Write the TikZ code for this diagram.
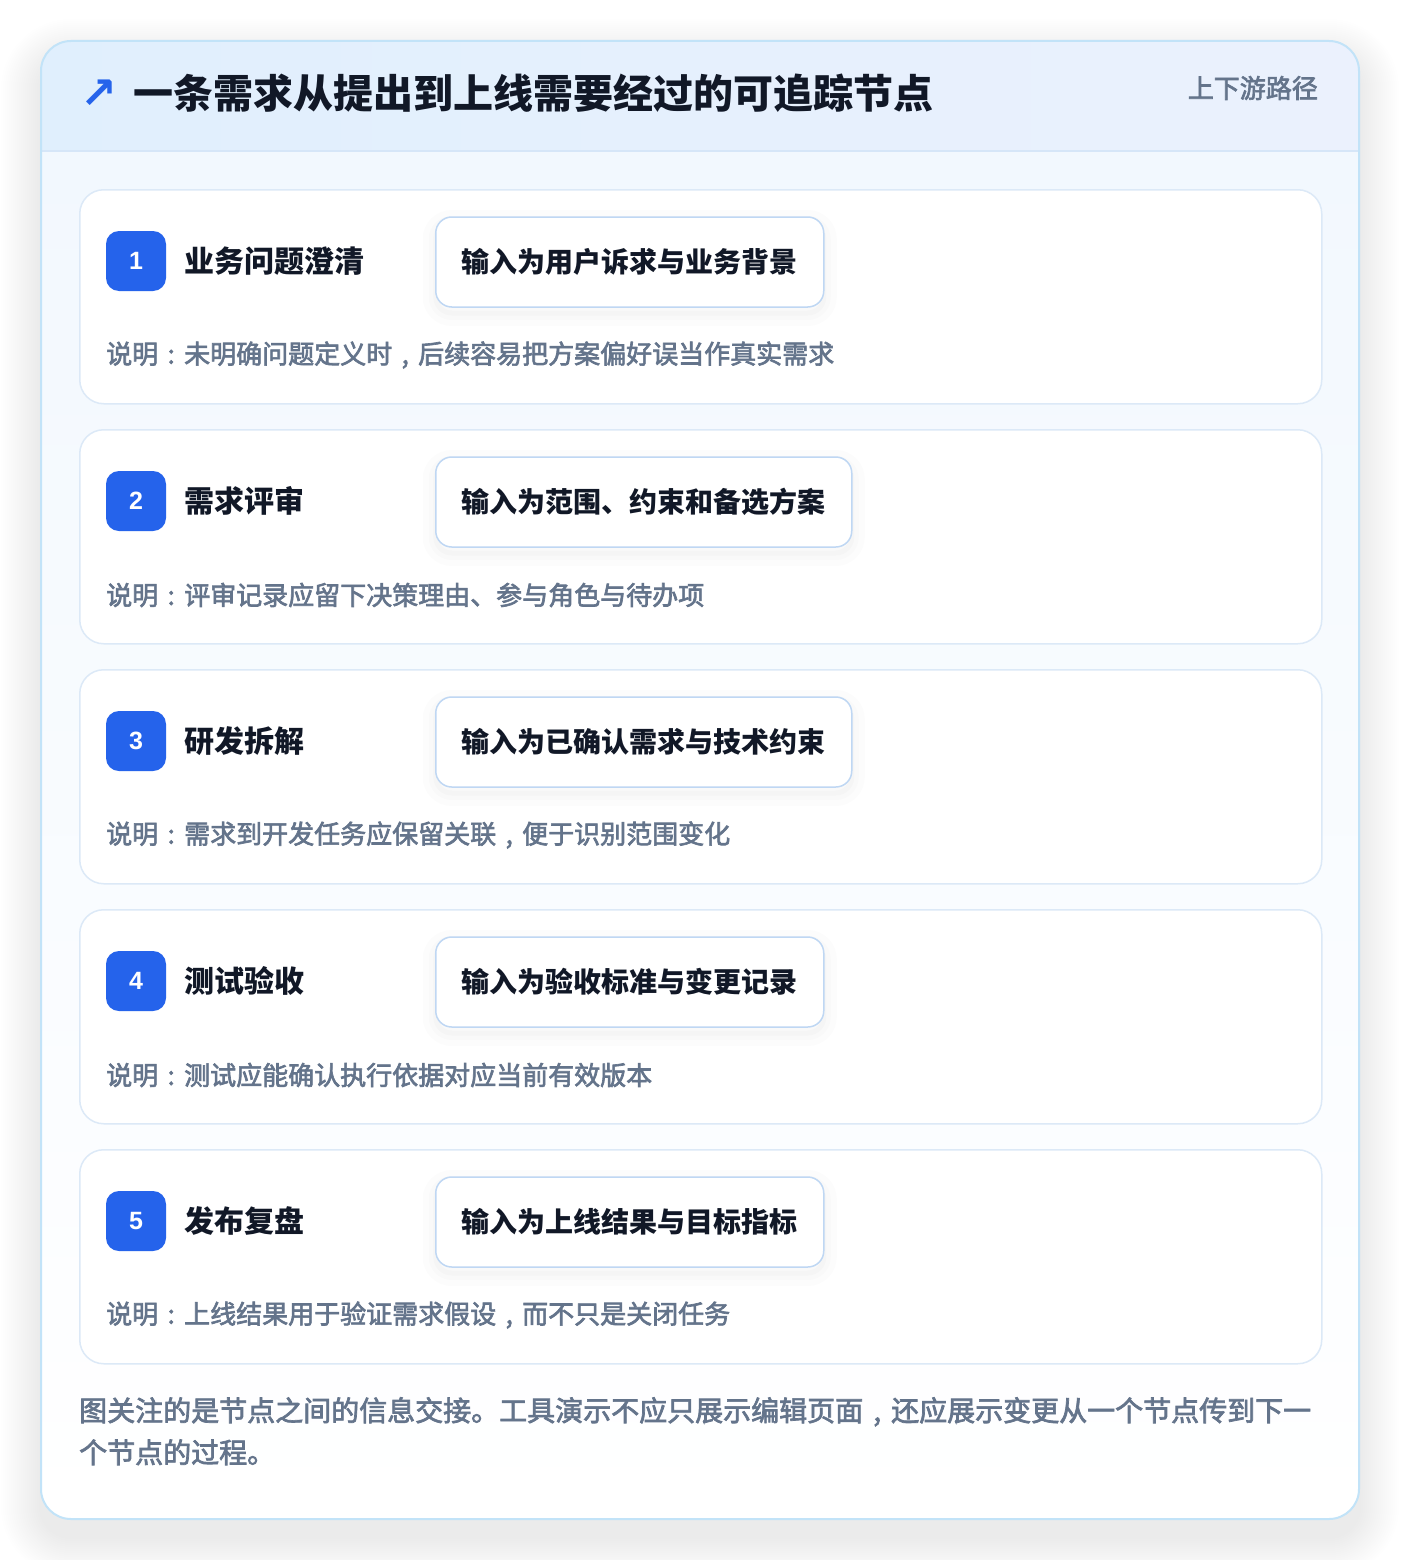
\documentclass[tikz,border=0pt]{standalone}
\usepackage{fontspec}
\setmainfont{Noto Sans CJK SC}
\newfontfamily\symfont{DejaVu Sans}
\newfontfamily\numfont{Liberation Sans}
\newfontfamily\descfont{Noto Sans CJK SC}[FakeBold=2.5]
\newcommand\ccomma{\makebox[1em][c]{,}}
\newcommand\ccolon{\makebox[1em][c]{:}}
\definecolor{blueA}{HTML}{2563EB}
\definecolor{ink}{HTML}{111827}
\definecolor{slate}{HTML}{64748B}
\definecolor{cardborder}{HTML}{DCE9F7}
\definecolor{inborder}{HTML}{BFD7F3}
\definecolor{outerborder}{HTML}{C2E3F8}
\definecolor{headL}{HTML}{E0EFFD}
\definecolor{headR}{HTML}{EBF1FD}
\definecolor{headline}{HTML}{D6E6F8}
\definecolor{bodytop}{HTML}{F2F8FE}
\begin{document}
\begin{tikzpicture}[x=1pt,y=1pt,
  badge/.style={fill=blueA, rounded corners=13, minimum width=60, minimum height=60, inner sep=0, text=white, font=\numfont\bfseries\fontsize{25}{30}\selectfont},
  steptitle/.style={anchor=west, inner sep=0, text=ink, font=\bfseries\fontsize{30}{36}\selectfont},
  inbox/.style={anchor=west, draw=inborder, line width=1.5, fill=white, rounded corners=16, minimum height=90, inner xsep=26, inner ysep=0, text=ink, font=\bfseries\fontsize{28}{34}\selectfont,
    preaction={draw=black, opacity=0.01, line width=26, transform canvas={yshift=-6}},
    preaction={draw=black, opacity=0.012, line width=14, transform canvas={yshift=-6}},
    preaction={draw=black, opacity=0.015, line width=5, transform canvas={yshift=-6}}},
  desc/.style={anchor=west, inner sep=0, text=slate, font=\descfont\fontsize{26}{32}\selectfont},
  stepcard/.style={draw=cardborder, line width=1.5, fill=white, rounded corners=24, minimum width=1242, minimum height=214, anchor=north west, inner sep=0},
]
\useasboundingbox (0,0) rectangle (1400,-1560);
\fill[white] (0,0) rectangle (1400,-1560);
% outer shadow
\foreach \i in {2,4,...,40} {
  \fill[black, opacity=0.0035, rounded corners=30+\i] (41-\i,-41-18+\i) rectangle (1359+\i,-1519-18-\i);
}
% outer card
\begin{scope}
  \clip[rounded corners=30] (41,-41) rectangle (1359,-1519);
  \shade[top color=bodytop, bottom color=white] (41,-151) rectangle (1359,-1519);
  \shade[left color=headL, right color=headR] (41,-41) rectangle (1359,-151);
  \draw[headline, line width=1.5] (41,-151) -- (1359,-151);
\end{scope}
\draw[outerborder, line width=2, rounded corners=30] (41,-41) rectangle (1359,-1519);
% header
\node[anchor=west, text=blueA, font=\symfont\bfseries\fontsize{44}{50}\selectfont, inner sep=0] (arrow) at (80,-94) {↗};
\node[anchor=west, text=ink, font=\bfseries\fontsize{40}{48}\selectfont, inner sep=0] (title) at (133,-93) {一条需求从提出到上线需要经过的可追踪节点};
\node[anchor=east, text=slate, font=\descfont\fontsize{26}{32}\selectfont, inner sep=0] (tag) at (1318,-88) {上下游路径};
% cards
\foreach \k/\n/\ti/\inp/\ds [evaluate=\k as \t using -189-240*\k] in {
  0/1/业务问题澄清/输入为用户诉求与业务背景/说明\ccolon 未明确问题定义时\ccomma 后续容易把方案偏好误当作真实需求,
  1/2/需求评审/输入为范围、约束和备选方案/说明\ccolon 评审记录应留下决策理由、参与角色与待办项,
  2/3/研发拆解/输入为已确认需求与技术约束/说明\ccolon 需求到开发任务应保留关联\ccomma 便于识别范围变化,
  3/4/测试验收/输入为验收标准与变更记录/说明\ccolon 测试应能确认执行依据对应当前有效版本,
  4/5/发布复盘/输入为上线结果与目标指标/说明\ccolon 上线结果用于验证需求假设\ccomma 而不只是关闭任务} {
  \node[stepcard] (card\k) at (79,\t) {};
  \node[badge] (badge\k) at (136,\t-72) {\n};
  \node[steptitle] (name\k) at (184,\t-72) {\ti};
  \node[inbox] (in\k) at (435,\t-73) {\inp};
  \node[desc] (desc\k) at (106,\t-166) {\ds};
}
% footer
\node[anchor=north west, text=slate, font=\descfont\fontsize{28}{42}\selectfont, inner sep=0, align=left] (foot) at (79,-1397) {图关注的是节点之间的信息交接。工具演示不应只展示编辑页面\ccomma 还应展示变更从一个节点传到下一\\个节点的过程。};
\end{tikzpicture}
\end{document}
